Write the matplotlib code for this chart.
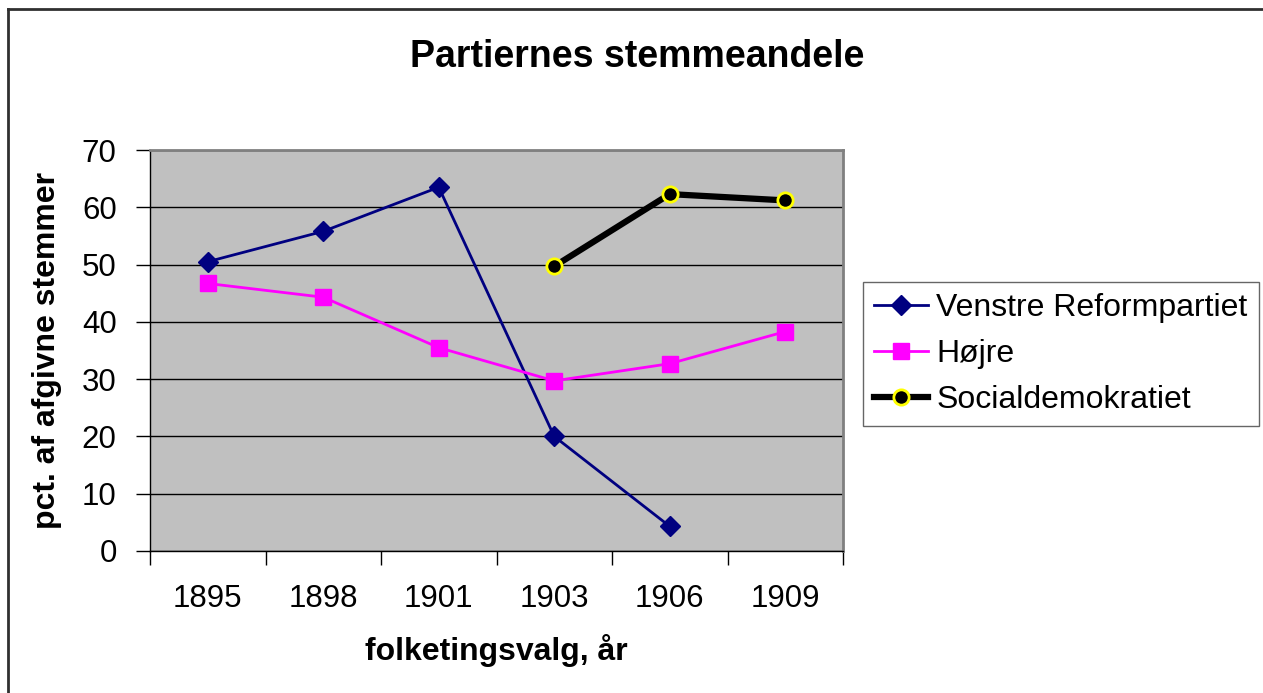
import numpy as np
import matplotlib
matplotlib.use('Agg')
from matplotlib import pyplot as plt
from matplotlib.lines import Line2D

plt.rcParams['font.family'] = ['Liberation Sans', 'DejaVu Sans']

# data
years = ['1895', '1898', '1901', '1903', '1906', '1909']
venstre = [50.5, 55.8, 63.5, 20.0, 4.3, np.nan]
hojre = [46.7, 44.3, 35.5, 29.7, 32.7, 38.3]
social = [np.nan, np.nan, np.nan, 49.7, 62.3, 61.2]

W, H = 1263, 693
fig = plt.figure(figsize=(W / 100, H / 100), dpi=100)
fig.patch.set_facecolor('white')

# plot area in pixels: left 150, right 843, top 150, bottom 551
ax = fig.add_axes([150 / W, (H - 551) / H, (843 - 150) / W, (551 - 150) / H])
ax.set_facecolor('#C0C0C0')

x = np.arange(len(years))
ax.plot(x, venstre, color='#000080', lw=2, marker='D', ms=10.5, mfc='#000080', mec='#000080',
        label='Venstre Reformpartiet', zorder=4)
ax.plot(x, hojre, color='#FF00FF', lw=2, marker='s', ms=11.5, mfc='#FF00FF', mec='#FF00FF',
        label='Højre', zorder=4)
ax.plot(x, social, color='black', lw=4.5, marker='o', ms=11, mfc='black', mec='#FFFF00', mew=2,
        label='Socialdemokratiet', zorder=5)

ax.set_ylim(0, 70)
ax.set_yticks(range(0, 71, 10))
ax.set_xlim(-0.5, len(years) - 0.5)
ax.set_xticks(np.arange(-0.5, len(years), 1))
ax.set_xticklabels([])
ax.set_xticks(x, minor=True)
ax.set_xticklabels(years, minor=True)
ax.tick_params(axis='x', which='major', length=10, width=1, direction='out', color='black')
ax.tick_params(axis='x', which='minor', length=0, pad=24, labelsize=22.5)
ax.tick_params(axis='y', length=10, width=1, direction='out', pad=14, labelsize=22.5)

ax.yaxis.grid(True, color='black', lw=1)
ax.set_axisbelow(True)

for s in ['top', 'right']:
    ax.spines[s].set_color('#808080')
    ax.spines[s].set_linewidth(2)
for s in ['left', 'bottom']:
    ax.spines[s].set_color('black')
    ax.spines[s].set_linewidth(1)

ax.set_xlabel('folketingsvalg, år', fontsize=23, fontweight='bold', labelpad=14)
ax.set_ylabel('pct. af afgivne stemmer', fontsize=23, fontweight='bold', labelpad=14)
fig.text(637 / W, 1 - 57 / H, 'Partiernes stemmeandele', fontsize=27, fontweight='bold',
         ha='center', va='center')

leg = fig.legend(loc='upper left', bbox_to_anchor=(863 / W, 1 - 282 / H), fontsize=23,
                 frameon=True, fancybox=False, edgecolor='#404040', handlelength=1.7,
                 handletextpad=0.25, labelspacing=0.5, borderpad=0.35, borderaxespad=0)
leg.get_frame().set_linewidth(1)

# outer chart frame: only its top and left edges fall inside the picture
fy = 1 - 9 / H
fx = 8 / W
fig.add_artist(Line2D([fx, fx], [0, fy], transform=fig.transFigure, color='#303030', lw=2))
fig.add_artist(Line2D([fx, 1], [fy, fy], transform=fig.transFigure, color='#303030', lw=2))

fig.savefig('out.png', dpi=100)
